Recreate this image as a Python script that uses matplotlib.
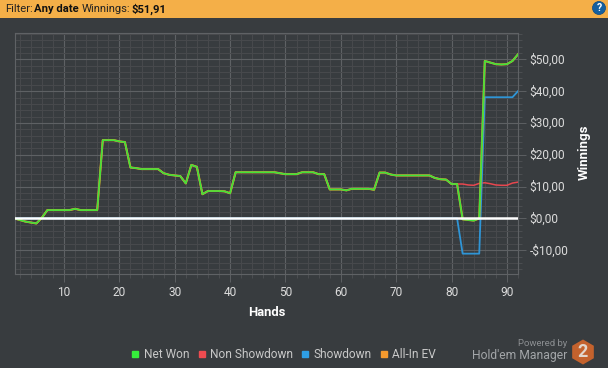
import matplotlib
matplotlib.use("Agg")
import matplotlib.pyplot as plt
from matplotlib.lines import Line2D
from matplotlib.patches import Rectangle, Circle, RegularPolygon
from matplotlib.ticker import MultipleLocator, FuncFormatter
from matplotlib.transforms import Affine2D, ScaledTranslation

plt.rcParams['font.family'] = ['Roboto', 'DejaVu Sans']

net_won = [0, -0.5, -1.0, -1.3, -1.6, 0.2, 2.6, 2.6, 2.6, 2.6,
           2.6, 3.0, 2.6, 2.6, 2.6, 2.6, 24.6, 24.6, 24.6, 24.2,
           24.0, 16.0, 15.8, 15.5, 15.5, 15.5, 15.5, 14.2, 13.7, 13.5,
           13.3, 11.0, 16.8, 16.2, 7.6, 8.6, 8.6, 8.6, 8.5, 7.9,
           14.5, 14.5, 14.5, 14.5, 14.5, 14.5, 14.5, 14.5, 14.2, 13.9,
           13.9, 13.9, 14.5, 14.5, 14.5, 13.9, 13.9, 9.1, 9.1, 9.1,
           8.8, 9.3, 9.3, 9.3, 9.3, 9.0, 14.4, 14.4, 13.8, 13.5,
           13.5, 13.5, 13.5, 13.5, 13.5, 13.5, 12.7, 12.3, 12.2, 10.8,
           10.8, -0.3, -0.5, -0.7, 0.0, 49.5, 49.0, 48.5, 48.4, 48.5, 49.5, 51.6]
non_showdown = [0, -0.5, -1.0, -1.3, -1.6, 0.2, 2.6, 2.6, 2.6, 2.6,
                2.6, 3.0, 2.6, 2.6, 2.6, 2.6, 24.6, 24.6, 24.6, 24.2,
                24.0, 16.0, 15.8, 15.5, 15.5, 15.5, 15.5, 14.2, 13.7, 13.5,
                13.3, 11.0, 16.8, 16.2, 7.6, 8.6, 8.6, 8.6, 8.5, 7.9,
                14.5, 14.5, 14.5, 14.5, 14.5, 14.5, 14.5, 14.5, 14.2, 13.9,
                13.9, 13.9, 14.5, 14.5, 14.5, 13.9, 13.9, 9.1, 9.1, 9.1,
                8.8, 9.3, 9.3, 9.3, 9.3, 9.0, 14.4, 14.4, 13.8, 13.5,
                13.5, 13.5, 13.5, 13.5, 13.5, 13.5, 12.7, 12.3, 12.2, 10.8,
                10.8, 10.8, 10.5, 10.4, 11.0, 11.2, 10.9, 10.5, 10.4, 10.4, 11.1, 11.4]
showdown = [0] * 81 + [-11.1, -11.1, -11.1, -11.1, 38.1, 38.1, 38.1, 38.1, 38.1, 38.1, 40.0]
all_in_ev = list(net_won)
hands = list(range(1, len(net_won) + 1))
legend_labels = ["Net Won", "Non Showdown", "Showdown", "All-In EV"]

BG = "#383C3F"
W, H = 608, 368
fig = plt.figure(figsize=(W / 100, H / 100), dpi=100, facecolor=BG)
ax = fig.add_axes([15 / W, 1 - 274 / H, 503 / W, 241 / H], facecolor=BG)
px = Affine2D().scale(1 / W, 1 / H) + fig.transFigure

ax.set_xlim(1.15, 92)
ax.set_ylim(-17.5, 58.3)
ax.xaxis.set_major_locator(MultipleLocator(10))
ax.xaxis.set_minor_locator(MultipleLocator(2))
ax.yaxis.set_major_locator(MultipleLocator(10))
ax.yaxis.set_minor_locator(MultipleLocator(2))
ax.yaxis.tick_right()
ax.yaxis.set_label_position("right")


def money(v, _):
    return f"-${abs(v):.2f}".replace(".", ",") if v < 0 else f"${v:.2f}".replace(".", ",")


ax.yaxis.set_major_formatter(FuncFormatter(money))
ax.grid(which="major", color="#5E6164", lw=0.8)
ax.grid(which="minor", color="#47494C", lw=0.72)
ax.set_axisbelow(True)
for s in ax.spines.values():
    s.set_color("#5F6265")
    s.set_linewidth(0.8)
ax.tick_params(which="major", length=6, width=0.72, color="#5B5E61", labelcolor="#DCDCDC", labelsize=8.6)
ax.tick_params(which="minor", length=3, width=0.72, color="#4A4D50")
ax.tick_params(axis="y", which="major", pad=2.5)
ax.tick_params(axis="x", which="major", pad=2.5)
shift = ScaledTranslation(0, 1 / 100, fig.dpi_scale_trans)
for label in ax.get_yticklabels():
    label.set_transform(label.get_transform() + shift)

c_net, c_ns, c_sd, c_ev = "#3FE23A", "#E8474F", "#2F95D6", "#F39A2D"
ax.plot(hands, non_showdown, color=c_ns, lw=1.1, zorder=3)
ax.plot(hands, showdown, color=c_sd, lw=1.3, zorder=3)
ax.plot(hands, all_in_ev, color=c_ev, lw=1.5, zorder=4)
ax.plot(hands, net_won, color=c_net, lw=1.2, zorder=5)
ax.axhline(0, color="white", lw=1.8, zorder=6)

fig.text(267 / W, 1 - 313 / H, "Hands", color="white", fontsize=9.4, fontweight="bold", ha="center", va="center")
fig.text(584 / W, 1 - 152 / H, "Winnings", color="white", fontsize=9.5, fontweight="bold",
         rotation=90, ha="center", va="center")

# header bar
fig.add_artist(Rectangle((0, 1 - 18 / H), 1, 18 / H, transform=fig.transFigure, facecolor="#F4AF48", edgecolor="none"))
fs = 8.1
fig.text(5 / W, 1 - 9.5 / H, "Filter:", color="#222222", fontsize=fs, va="center")
fig.text(34 / W, 1 - 9.5 / H, "Any date", color="#111111", fontsize=fs, fontweight="bold", va="center")
fig.text(81.7 / W, 1 - 9.5 / H, "Winnings:", color="#222222", fontsize=fs, va="center")
fig.text(131.7 / W, 1 - 9.5 / H, "$51,91", color="#111111", fontsize=fs, fontweight="bold", va="center")

# help icon
fig.add_artist(Circle((599, H - 8), 6.5, transform=px, facecolor="#15609F", edgecolor="#0E4A80", lw=0.5))
fig.text(599 / W, 1 - 8 / H, "?", color="white", fontsize=7.5, fontweight="bold", ha="center", va="center")

# legend
handles = [Line2D([], [], ls="none", marker="s", ms=4.6, color=c) for c in ("#35EE3B", "#EE4B50", "#2E9FE6", "#F59A2E")]
fig.legend(handles, legend_labels, loc="center left", bbox_to_anchor=(127 / W, 1 - 354.5 / H), ncol=4, frameon=False,
           fontsize=8.6, labelcolor="#C8C8C8", handletextpad=0.0, columnspacing=0.33, handlelength=1.4,
           borderpad=0, borderaxespad=0)

# branding
fig.text(567 / W, 1 - 343 / H, "Powered by", color="#8C8F92", fontsize=6.8, ha="right", va="center")
fig.text(567 / W, 1 - 355 / H, "Hold'em Manager", color="#A2A5A8", fontsize=8.7, ha="right", va="center")
fig.add_artist(RegularPolygon((583, H - 352), 6, radius=12.5, transform=px, facecolor="#C4622D", edgecolor="none"))
fig.text(583 / W, 1 - 352 / H, "2", color="#E2D6CC", fontsize=13, fontweight="bold", ha="center", va="center")

fig.savefig("out.png", dpi=100, facecolor=BG)
